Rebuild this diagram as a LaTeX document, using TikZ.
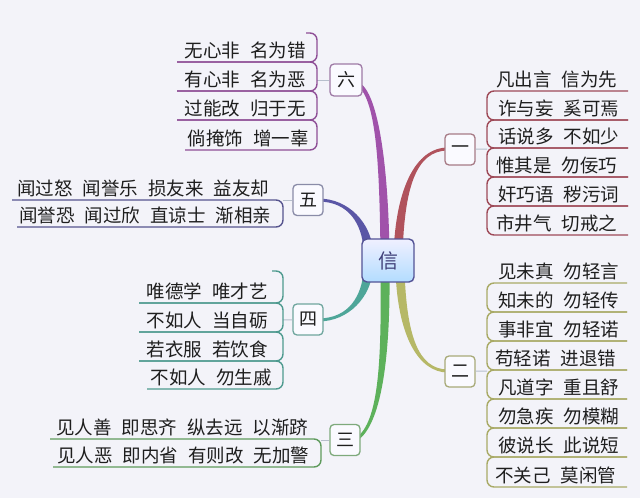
\documentclass[tikz,border=0pt]{standalone}
\usepackage{fontspec}
\newfontfamily\cjk{Noto Sans CJK SC}
\definecolor{bgc}{HTML}{F3F3F9}
\definecolor{txt}{HTML}{1E1E1E}
\definecolor{bra}{HTML}{B0525C}
\definecolor{brb}{HTML}{B6B867}
\definecolor{brc}{HTML}{5DB15B}
\definecolor{brd}{HTML}{4EA699}
\definecolor{bre}{HTML}{5A56A6}
\definecolor{brf}{HTML}{A052AA}
\definecolor{lna}{HTML}{9E4A58}
\definecolor{lnb}{HTML}{A9AA66}
\definecolor{lnc}{HTML}{5E9A5C}
\definecolor{lnd}{HTML}{4E9A8F}
\definecolor{lne}{HTML}{56548E}
\definecolor{lnf}{HTML}{8E4E96}
\definecolor{bxa}{HTML}{A77B86}
\definecolor{bxb}{HTML}{A8AA78}
\definecolor{bxc}{HTML}{7EAA7C}
\definecolor{bxd}{HTML}{6FA69E}
\definecolor{bxe}{HTML}{8A8CA8}
\definecolor{bxf}{HTML}{9E7AA6}
\definecolor{conn}{HTML}{B7BFCC}
\newcommand\gp{\hspace{10pt}}
\begin{document}
\begin{tikzpicture}[x=1pt,y=-1pt,
  leaf/.style={font=\cjk\fontsize{18.5}{20}\selectfont, text=txt, inner sep=0pt},
  topicbox/.style={draw, line width=1.3pt, rounded corners=4pt, fill=white!98!blue,
    minimum width=30pt, minimum height=31pt, inner sep=0pt,
    font=\cjk\fontsize{18}{20}\selectfont, text=txt},
  uline/.style={line width=1.4pt, rounded corners=7pt},
  link/.style={conn, line width=1pt}]
\fill[bgc] (0,0) rectangle (640,498);
\useasboundingbox (0,0) rectangle (640,498);

% tapered branches
\fill[bra] (393.5,255) .. controls (395.5,190) and (415,147.5) .. (448,147.5) -- (448,150.5) .. controls (415,150.5) and (404.5,190) .. (402.5,255) -- cycle;
\fill[brf] (380.5,255) .. controls (379.5,170) and (377,99) .. (357,85.5) -- (359,82.5) .. controls (379,93) and (388.5,170) .. (389.5,255) -- cycle;
\fill[bre] (363.5,248) .. controls (361.5,225.5) and (350,201.5) .. (318,201.5) -- (318,198.5) .. controls (350,198.5) and (370.5,224.5) .. (372.5,248) -- cycle;
\fill[brd] (372.5,272) .. controls (370.5,295.5) and (350,321.5) .. (318,321.5) -- (318,318.5) .. controls (350,318.5) and (361.5,294.5) .. (363.5,272) -- cycle;
\fill[brc] (389.5,270) .. controls (390.5,360) and (380.9,424.2) .. (357.9,440.2) -- (356.1,437.8) .. controls (379.1,421.8) and (381.5,360) .. (380.5,270) -- cycle;
\fill[brb] (404.5,270) .. controls (406.5,335) and (418,369.5) .. (448,369.5) -- (448,372.5) .. controls (418,372.5) and (397.5,335) .. (395.5,270) -- cycle;

% centre
\node[draw=black!25!blue!35!gray, line width=1.4pt, rounded corners=5pt,
  top color=blue!6!white, bottom color=blue!45!cyan!30!white,
  minimum width=52pt, minimum height=43pt, inner sep=0pt,
  font=\cjk\fontsize{20}{22}\selectfont, text=blue!30!black!75] (c) at (388,260.5) {信};

% topic boxes
\node[topicbox, draw=bxa] (t1) at (460,149.5) {一};
\node[topicbox, draw=bxb] (t2) at (460,371.5) {二};
\node[topicbox, draw=bxc] (t3) at (345,440) {三};
\node[topicbox, draw=bxd] (t4) at (308,319.5) {四};
\node[topicbox, draw=bxe] (t5) at (308,200) {五};
\node[topicbox, draw=bxf, minimum width=32pt, minimum height=32pt] (t6) at (346,80) {六};

% small links box -> bracket
\coordinate (k1) at (487,149);
\coordinate (k2) at (487,371);
\coordinate (k3) at (321,440);
\coordinate (k4) at (283,320);
\coordinate (k5) at (283,200);
\coordinate (k6) at (317,80);
\foreach \t/\k in {t1/k1,t2/k2,t3/k3,t4/k4,t5/k5,t6/k6}{
  \draw[link] (\t) -- (\k);
}

% underlines group 一
\foreach \a/\b in {91/120,120/148,148/177,177/206,206/235}{
  \draw[uline, lna] (628,\a) -- (487,\a) -- (487,\b) -- (628,\b);
}
% group 二
\foreach \a/\b in {283/312,312/341,341/370,370/399,399/428,428/457,457/487}{
  \draw[uline, lnb] (627,\a) -- (487,\a) -- (487,\b) -- (627,\b);
}
% group 六
\draw[uline, lnf] (306,33) -- (317,33) -- (317,62) -- (177,62);
\foreach \a/\b/\s in {62/91/177,91/120/177,120/150/185}{
  \draw[uline, lnf] (177,\a) -- (317,\a) -- (317,\b) -- (\s,\b);
}
% group 五
\draw[uline, lne] (12,200) -- (283,200) -- (283,227) -- (17,227);
% group 四
\draw[uline, lnd] (272,271) -- (283,271) -- (283,303) -- (139,303);
\foreach \a/\b/\s in {303/332/139,332/361/139,361/389/147}{
  \draw[uline, lnd] (139,\a) -- (283,\a) -- (283,\b) -- (\s,\b);
}
% group 三
\draw[uline, lnc] (50,439) -- (321,439) -- (321,467) -- (53,467);

% texts group 一
\node[leaf, anchor=base west] (a1) at (496,86) {凡出言\gp{}信为先};
\node[leaf, anchor=base west] (a2) at (498,115) {诈与妄\gp{}奚可焉};
\node[leaf, anchor=base west] (a3) at (498,143) {话说多\gp{}不如少};
\node[leaf, anchor=base west] (a4) at (496,172) {惟其是\gp{}勿佞巧};
\node[leaf, anchor=base west] (a5) at (498,201) {奸巧语\gp{}秽污词};
\node[leaf, anchor=base west] (a6) at (496,230) {市井气\gp{}切戒之};
% group 二
\node[leaf, anchor=base west] (b1) at (498,278) {见未真\gp{}勿轻言};
\node[leaf, anchor=base west] (b2) at (498,307) {知未的\gp{}勿轻传};
\node[leaf, anchor=base west] (b3) at (498,336) {事非宜\gp{}勿轻诺};
\node[leaf, anchor=base west] (b4) at (495,365) {苟轻诺\gp{}进退错};
\node[leaf, anchor=base west] (b5) at (498,394) {凡道字\gp{}重且舒};
\node[leaf, anchor=base west] (b6) at (498,423) {勿急疾\gp{}勿模糊};
\node[leaf, anchor=base west] (b7) at (498,452) {彼说长\gp{}此说短};
\node[leaf, anchor=base west] (b8) at (495,482) {不关己\gp{}莫闲管};
% group 三
\node[leaf, anchor=base west] (c1) at (56,434) {见人善\gp{}即思齐\gp{}纵去远\gp{}以渐跻};
\node[leaf, anchor=base west] (c2) at (57,462) {见人恶\gp{}即内省\gp{}有则改\gp{}无加警};
% group 四
\node[leaf, anchor=base east] (d1) at (268,298) {唯德学\gp{}唯才艺};
\node[leaf, anchor=base east] (d2) at (268,327) {不如人\gp{}当自砺};
\node[leaf, anchor=base east] (d3) at (268,356) {若衣服\gp{}若饮食};
\node[leaf, anchor=base east] (d4) at (272,384) {不如人\gp{}勿生戚};
% group 五
\node[leaf, anchor=base west] (e1) at (17,195) {闻过怒\gp{}闻誉乐\gp{}损友来\gp{}益友却};
\node[leaf, anchor=base west] (e2) at (19,222) {闻誉恐\gp{}闻过欣\gp{}直谅士\gp{}渐相亲};
% group 六
\node[leaf, anchor=base east] (f1) at (306,57) {无心非\gp{}名为错};
\node[leaf, anchor=base east] (f2) at (306,86) {有心非\gp{}名为恶};
\node[leaf, anchor=base east] (f3) at (306,115) {过能改\gp{}归于无};
\node[leaf, anchor=base east] (f4) at (309,145) {倘掩饰\gp{}增一辜};
\end{tikzpicture}
\end{document}
